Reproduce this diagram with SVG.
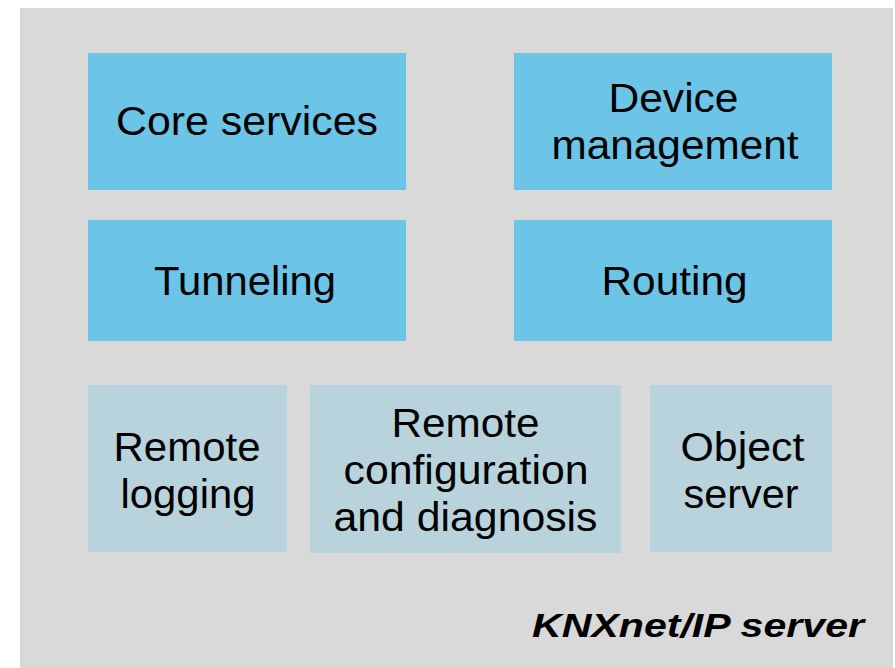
<svg xmlns="http://www.w3.org/2000/svg" width="895" height="668" viewBox="0 0 895 668">
<style>
.blue{fill:#6CC4E6}
.light{fill:#B8D3DC}
.t{font-family:"Liberation Sans",Arial,sans-serif;font-size:40px;fill:#000;text-anchor:middle}
.title{font-family:"Liberation Sans",Arial,sans-serif;font-size:34px;font-weight:bold;font-style:italic;fill:#000;text-anchor:end}
</style>
<rect x="0" y="0" width="895" height="668" fill="#FFFFFF"/>
<g id="server">
<rect x="20" y="8" width="873" height="660" fill="#D9D9D9"/>
<text class="title" x="864" y="637" textLength="332" lengthAdjust="spacingAndGlyphs">KNXnet/IP server</text>
</g>
<g id="core">
<rect class="blue" x="88" y="53" width="318" height="137"/>
<text class="t" x="247" y="135" textLength="262" lengthAdjust="spacingAndGlyphs">Core services</text>
</g>
<g id="device">
<rect class="blue" x="514" y="53" width="318" height="137"/>
<text class="t" x="673.5" y="112" textLength="130" lengthAdjust="spacingAndGlyphs">Device</text>
<text class="t" x="675" y="159" textLength="247" lengthAdjust="spacingAndGlyphs">management</text>
</g>
<g id="tunneling">
<rect class="blue" x="88" y="220" width="318" height="121"/>
<text class="t" x="245" y="295" textLength="182" lengthAdjust="spacingAndGlyphs">Tunneling</text>
</g>
<g id="routing">
<rect class="blue" x="514" y="220" width="318" height="121"/>
<text class="t" x="674.5" y="295" textLength="146" lengthAdjust="spacingAndGlyphs">Routing</text>
</g>
<g id="logging">
<rect class="light" x="88" y="385" width="199" height="167"/>
<text class="t" x="187" y="461" textLength="147" lengthAdjust="spacingAndGlyphs">Remote</text>
<text class="t" x="188" y="508" textLength="135" lengthAdjust="spacingAndGlyphs">logging</text>
</g>
<g id="config">
<rect class="light" x="310" y="385" width="311" height="168"/>
<text class="t" x="465.5" y="437" textLength="148" lengthAdjust="spacingAndGlyphs">Remote</text>
<text class="t" x="466" y="484" textLength="245" lengthAdjust="spacingAndGlyphs">configuration</text>
<text class="t" x="465.5" y="531" textLength="264" lengthAdjust="spacingAndGlyphs">and diagnosis</text>
</g>
<g id="object">
<rect class="light" x="650" y="385" width="182" height="167"/>
<text class="t" x="742.5" y="461" textLength="124" lengthAdjust="spacingAndGlyphs">Object</text>
<text class="t" x="741" y="508" textLength="115" lengthAdjust="spacingAndGlyphs">server</text>
</g>
<g id="connectors"></g>
</svg>
